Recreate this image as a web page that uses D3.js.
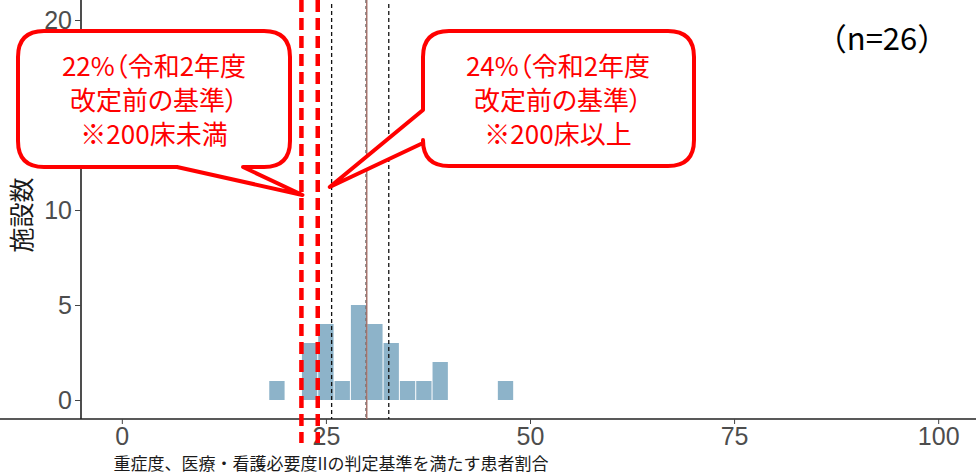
<!DOCTYPE html>
<html><head><meta charset="utf-8">
<script src="https://cdn.jsdelivr.net/npm/d3@7"></script>
<style>body{margin:0;background:#fff}svg{display:block}</style>
</head><body>
<script>
// ---- data ----
const binStarts = [18, 22, 24, 26, 28, 30, 32, 34, 36, 38, 46];
const counts    = [1, 3, 4, 1, 5, 4, 3, 1, 1, 2, 1];
const binWidth = 2;
const xTicks = [0, 25, 50, 75, 100];
const yTicks = [0, 5, 10, 15, 20];
const yTickLabelsShown = [0, 5, 10, 20]; // 15 is hidden under the callout in the reference
const quartileLines = [25.7, 32.7];
const meanLine = [30];
const criteriaLines = [22, 24];
const callouts = [
  ["22%（令和2年度", "改定前の基準）", "※200床未満"],
  ["24%（令和2年度", "改定前の基準）", "※200床以上"]
];
const nLabel = "（n=26）";
const yLabel = "施設数";
const xLabel = "重症度、医療・看護必要度IIの判定基準を満たす患者割合";

const W = 976, H = 475;
const svg = d3.select("body").append("svg").attr("width", W).attr("height", H);
const x = d3.scaleLinear().domain([-5, 105]).range([81, 979]);
const y = d3.scaleLinear().domain([-1, 21]).range([419, 1]);

// bars
svg.append("g").selectAll("rect").data(binStarts).join("rect")
  .attr("x", d => x(d) + 0.5)
  .attr("width", d => x(d + binWidth) - x(d) - 1)
  .attr("y", (d, i) => y(counts[i]))
  .attr("height", (d, i) => y(0) - y(counts[i]))
  .attr("fill", "#8db3c9");

// axes
const yAxis = svg.append("g").attr("transform", `translate(${x(-5)},0)`)
  .call(d3.axisLeft(y).tickValues(yTicks).tickSize(6).tickPadding(3)
    .tickFormat(d => yTickLabelsShown.includes(d) ? d : ""));
const xAxis = svg.append("g").attr("transform", `translate(0,${y(-1)})`)
  .call(d3.axisBottom(x).tickValues(xTicks).tickSize(5).tickPadding(3));
[yAxis, xAxis].forEach(a => {
  a.select(".domain").attr("stroke", "#222").attr("stroke-width", 1.6);
  a.selectAll(".tick line").attr("stroke", "#444").attr("stroke-width", 1);
  a.selectAll(".tick text").attr("fill", "#4d4d4d")
    .style("font-family", "Liberation Sans, Arial, sans-serif").style("font-size", "25px");
});
yAxis.selectAll(".tick text").filter(d => !yTickLabelsShown.includes(d)).remove();
yAxis.select(".domain").attr("d", `M0,0V${y(-1)}`);
xAxis.select(".domain").attr("d", `M0,0H${W}`);

// reference lines
svg.append("g").selectAll("line").data(quartileLines).join("line")
  .attr("x1", d => x(d)).attr("x2", d => x(d))
  .attr("y1", 4).attr("y2", y(-1))
  .attr("stroke", "#111").attr("stroke-width", 1.3).attr("stroke-dasharray", "4,3");
const mg = svg.append("g");
mg.selectAll("line.s").data(meanLine).join("line").attr("class", "s")
  .attr("x1", d => x(d)).attr("x2", d => x(d)).attr("y1", 0).attr("y2", y(-1))
  .attr("stroke", "#a8736c").attr("stroke-width", 1.5);
mg.selectAll("line.d").data(meanLine).join("line").attr("class", "d")
  .attr("x1", d => x(d) - 1).attr("x2", d => x(d) - 1).attr("y1", 0).attr("y2", y(-1))
  .attr("stroke", "#777").attr("stroke-width", 1).attr("stroke-dasharray", "3,3");
svg.append("g").selectAll("line").data(criteriaLines).join("line")
  .attr("x1", d => x(d)).attr("x2", d => x(d))
  .attr("y1", 0).attr("y2", 443)
  .attr("stroke", "#ff0000").attr("stroke-width", 4.5).attr("stroke-dasharray", "12,6");

// callouts (single outline: rounded box with tail)
const r = 26;
function calloutBottom(x0, y0, x1, y1, ta, tip, tb) {
  return `M${x0 + r},${y0}H${x1 - r}Q${x1},${y0} ${x1},${y0 + r}V${y1 - r}Q${x1},${y1} ${x1 - r},${y1}` +
    `H${ta}L${tip[0]},${tip[1]}L${tb},${y1}` +
    `H${x0 + r}Q${x0},${y1} ${x0},${y1 - r}V${y0 + r}Q${x0},${y0} ${x0 + r},${y0}Z`;
}
function calloutLeft(x0, y0, x1, y1, ta, tip, tb) {
  return `M${x0 + r},${y0}H${x1 - r}Q${x1},${y0} ${x1},${y0 + r}V${y1 - r}Q${x1},${y1} ${x1 - r},${y1}` +
    `H${x0 + r}Q${x0},${y1} ${x0},${y1 - r}` +
    `V${ta}L${tip[0]},${tip[1]}L${x0},${tb}` +
    `V${y0 + r}Q${x0},${y0} ${x0 + r},${y0}Z`;
}
const boxes = [
  {d: calloutBottom(18, 31, 290, 167, 243, [x(criteriaLines[0]) + 1, 195], 177), cx: 154},
  {d: calloutLeft(423, 31, 694, 166, 143, [x(criteriaLines[1]) + 12, 187], 110), cx: 558}
];
boxes.forEach((b, i) => {
  const g = svg.append("g");
  g.append("path").attr("d", b.d)
    .attr("fill", "#fff").attr("stroke", "#ff0000").attr("stroke-width", 4).attr("stroke-linejoin", "round");
  g.selectAll("text").data(callouts[i]).join("text")
    .attr("x", b.cx).attr("y", (d, j) => 76 + j * 34)
    .attr("text-anchor", "middle").attr("fill", "#ff0000")
    .style("font-family", "Noto Sans CJK JP, sans-serif").style("font-size", "26px")
    .style("font-feature-settings", "'palt' 1")
    .text(d => d);
});

// n label
svg.append("text").attr("x", 882).attr("y", 50).attr("text-anchor", "middle")
  .style("font-family", "Noto Sans CJK JP, sans-serif").style("font-size", "31px")
  .attr("fill", "#000").text(nLabel);

// axis titles
svg.append("text").attr("transform", `translate(31,${215}) rotate(-90)`)
  .attr("text-anchor", "middle").attr("fill", "#1a1a1a")
  .style("font-family", "Noto Sans CJK JP, sans-serif").style("font-size", "25px").text(yLabel);
svg.append("text").attr("x", 331).attr("y", 470).attr("text-anchor", "middle").attr("fill", "#1a1a1a")
  .style("font-family", "Noto Sans CJK JP, sans-serif").style("font-size", "17px").text(xLabel);
</script>
</body></html>
